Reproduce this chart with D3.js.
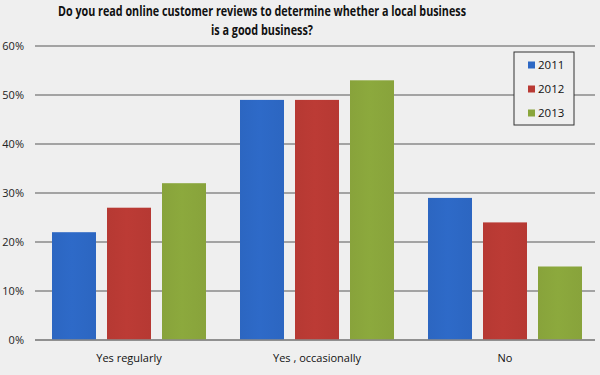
<!DOCTYPE html>
<html>
<head>
<meta charset="utf-8">
<script src="https://cdn.jsdelivr.net/npm/d3@7"></script>
<style>
  body { margin: 0; background: #efefef; }
  svg { display: block; }
</style>
</head>
<body>
<script>
const categories = ["Yes regularly", "Yes , occasionally", "No"];
const years = ["2011", "2012", "2013"];
const values2011 = [22, 49, 29];
const values2012 = [27, 49, 24];
const values2013 = [32, 53, 15];
const yTicks = [0, 10, 20, 30, 40, 50, 60];
const colors = ["#2d68c4", "#b93a34", "#8aa63c"];

const canvWidth = 600, canvHeight = 375;
const margin = {top: 46, right: 1, bottom: 35, left: 35};
const width = canvWidth - margin.left - margin.right;
const height = canvHeight - margin.top - margin.bottom;

const series = [values2011, values2012, values2013];
const data = categories.map((c, i) => ({cat: c, vals: years.map((y, j) => ({year: y, v: series[j][i], k: j}))}));

const svg = d3.select("body").append("svg")
    .attr("width", canvWidth)
    .attr("height", canvHeight)
    .style("font-family", "'Open Sans', sans-serif");

const defs = svg.append("defs");
colors.forEach((c, i) => {
  const gr = defs.append("linearGradient").attr("id", "grad" + i)
      .attr("x1", "0").attr("x2", "1").attr("y1", "0").attr("y2", "0");
  gr.append("stop").attr("offset", "0%").attr("stop-color", d3.color(c).darker(0.05));
  gr.append("stop").attr("offset", "45%").attr("stop-color", d3.color(c).brighter(0.05));
  gr.append("stop").attr("offset", "100%").attr("stop-color", d3.color(c).darker(0.05));
});

// title (Calibri-like width via textLength)
const title = svg.append("text")
    .attr("text-anchor", "middle")
    .attr("font-size", "14px")
    .attr("font-weight", "bold")
    .attr("fill", "#111");
title.append("tspan").attr("x", 262).attr("y", 16)
    .attr("textLength", 408).attr("lengthAdjust", "spacingAndGlyphs")
    .text("Do you read online customer reviews to determine whether a local business");
title.append("tspan").attr("x", 262).attr("y", 35)
    .attr("textLength", 102).attr("lengthAdjust", "spacingAndGlyphs")
    .text("is a good business?");

const g = svg.append("g")
    .attr("transform", `translate(${margin.left},${margin.top})`);

const x0 = d3.scaleBand().domain(categories).range([0, width]).paddingInner(0).paddingOuter(0);
const x1 = d3.scaleBand().domain(years).range([17, x0.bandwidth() - 17]).paddingInner(0.2).paddingOuter(0);
const y = d3.scaleLinear().domain([0, 60]).range([height, 0]);

// gridlines
g.selectAll("line.grid")
    .data(yTicks)
    .enter().append("line")
    .attr("class", "grid")
    .attr("x1", 0).attr("x2", width - 4)
    .attr("y1", d => y(d)).attr("y2", d => y(d))
    .attr("stroke", "#8a8a8a")
    .attr("stroke-width", 1.3);

// y labels
g.selectAll("text.ylab")
    .data(yTicks)
    .enter().append("text")
    .attr("class", "ylab")
    .attr("x", -11).attr("y", d => y(d)).attr("dy", "0.35em")
    .attr("text-anchor", "end")
    .attr("font-size", "11px")
    .attr("fill", "#222")
    .text(d => d + "%");

// bars
const grp = g.selectAll("g.cat")
    .data(data)
    .enter().append("g")
    .attr("transform", d => `translate(${x0(d.cat)},0)`);

grp.selectAll("rect")
    .data(d => d.vals)
    .enter().append("rect")
    .attr("x", d => x1(d.year))
    .attr("y", d => y(d.v))
    .attr("width", x1.bandwidth())
    .attr("height", d => height - y(d.v))
    .attr("fill", d => `url(#grad${d.k})`);

// redraw baseline over bars
g.append("line")
    .attr("x1", 0).attr("x2", width - 4)
    .attr("y1", y(0)).attr("y2", y(0))
    .attr("stroke", "#8a8a8a").attr("stroke-width", 1.3);

// x labels
g.selectAll("text.xlab")
    .data(categories)
    .enter().append("text")
    .attr("class", "xlab")
    .attr("x", d => x0(d) + x0.bandwidth() / 2)
    .attr("y", height + 22)
    .attr("text-anchor", "middle")
    .attr("font-size", "11px")
    .attr("fill", "#111")
    .text(d => d);

// legend
const legend = svg.append("g").attr("transform", "translate(514,52)");
legend.append("rect")
    .attr("width", 60).attr("height", 73)
    .attr("fill", "#efefef")
    .attr("stroke", "#333").attr("stroke-width", 1);
const li = legend.selectAll("g.item")
    .data(years)
    .enter().append("g")
    .attr("transform", (d, i) => `translate(0,${13 + i * 24})`);
li.append("rect")
    .attr("x", 14).attr("y", -3.5)
    .attr("width", 7).attr("height", 7)
    .attr("fill", (d, i) => colors[i]);
li.append("text")
    .attr("x", 24).attr("dy", "0.35em")
    .attr("font-size", "11.5px")
    .attr("fill", "#111")
    .text(d => d);
</script>
</body>
</html>
